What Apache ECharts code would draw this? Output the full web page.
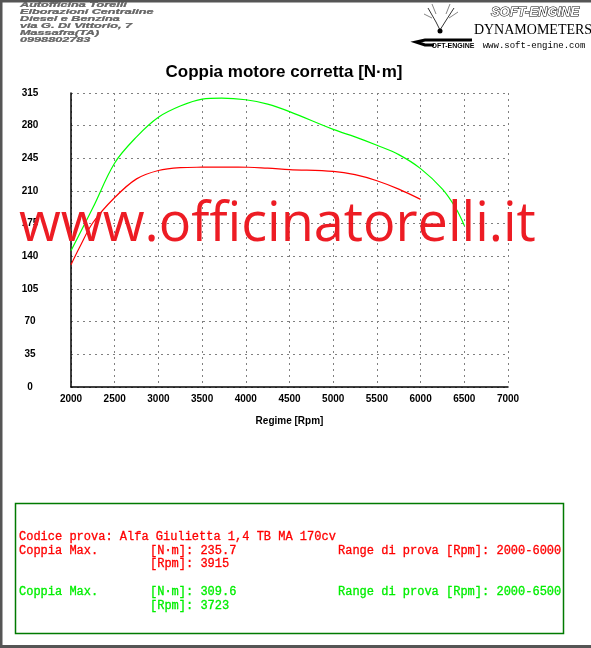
<!DOCTYPE html>
<html><head><meta charset="utf-8">
<script src="https://cdn.jsdelivr.net/npm/echarts@6/dist/echarts.min.js"></script>
<style>html,body{margin:0;padding:0;background:#fff}#c{width:591px;height:648px}</style>
</head><body><div id="c"></div>
<script>
// Data (rpm, N·m)
const greenRpm = [2000, 2250, 2500, 2750, 3000, 3250, 3500, 3723, 4000, 4250, 4500, 5000, 5250, 5500, 5750, 6000, 6250, 6400, 6500];
const greenNm  = [146, 192, 240, 268, 289, 301, 308.5, 309.6, 307.8, 303, 295, 276, 268, 259, 249, 234, 212, 192, 173];
const redRpm = [2000, 2100, 2250, 2500, 2750, 3000, 3250, 3500, 3915, 4250, 4500, 5000, 5250, 5500, 5750, 6000];
const redNm  = [131, 150, 176, 203, 223, 232, 235, 235.5, 235.7, 234.5, 233, 231, 227.5, 221, 212, 201];
const xTicks = {min: 2000, max: 7000, interval: 500};
const yTicks = {min: 0, max: 315, interval: 35};
const headerLines = ["Autofficina Torelli", "Elborazioni Centraline", "Diesel e Benzina", "via G. Di Vittorio, 7", "Massafra(TA)", "0998802783"];

const chart = echarts.init(document.getElementById('c'), null, {renderer: 'canvas'});
const zip = (a, b) => a.map((v, i) => [v, b[i]]);
const mono = "'Liberation Mono','Courier New',monospace";
const RED = '#ff0000', GRN = '#00ee00';

const g = [];
// frame (left, top, bottom)
g.push({type: 'polyline', shape: {points: [[591, 1], [1, 1], [1, 646.5], [591, 646.5]]}, style: {fill: 'none', stroke: '#555', lineWidth: 3}, silent: true, z: 1});
g.push({type: 'rect', shape: {x: 15.5, y: 503.5, width: 548, height: 130}, style: {fill: 'none', stroke: '#007a00', lineWidth: 1.5}, z: 1});
// header left
headerLines.forEach((t, i) => g.push({type: 'text', x: 20, y: 5 + i * 7, scaleY: 0.72, scaleX: 1.15,
  style: {text: t, font: 'italic bold 11px "Liberation Sans",Arial', fill: '#666', stroke: '#222', lineWidth: 0.3, textVerticalAlign: 'middle'}, z: 5}));
// header right logo
g.push({type: 'text', style: {x: 535, y: 12, text: 'SOFT-ENGINE', font: 'italic bold 13px "Liberation Sans",Arial', fill: '#fff', stroke: '#000', lineWidth: 1, textAlign: 'center', textVerticalAlign: 'middle'}, z: 5});
g.push({type: 'text', style: {x: 533, y: 30, text: 'DYNAMOMETERS', font: '14px "Liberation Serif","Times New Roman",serif', fill: '#000', textAlign: 'center', textVerticalAlign: 'middle'}, z: 5});
g.push({type: 'text', style: {x: 534, y: 46, text: 'www.soft-engine.com', font: '9px ' + mono, fill: '#000', textAlign: 'center', textVerticalAlign: 'middle'}, z: 5});
g.push({type: 'text', style: {x: 453, y: 46, text: 'OFT-ENGINE', font: 'bold 7px "Liberation Sans",Arial', fill: '#000', textAlign: 'center', textVerticalAlign: 'middle'}, z: 5});
g.push({type: 'polyline', shape: {points: [[472, 40], [425, 40], [416, 42], [425, 45], [434, 45]]}, style: {fill: 'none', stroke: '#000', lineWidth: 3}, z: 5});
g.push({type: 'polyline', shape: {points: [[428, 8], [436, 22], [440, 30], [445, 22], [454, 8]]}, style: {fill: 'none', stroke: '#333', lineWidth: 1}, z: 5});
g.push({type: 'polyline', shape: {points: [[424, 14], [432, 18]]}, style: {fill: 'none', stroke: '#666', lineWidth: 0.8}, z: 5});
g.push({type: 'polyline', shape: {points: [[458, 12], [449, 18]]}, style: {fill: 'none', stroke: '#666', lineWidth: 0.8}, z: 5});
g.push({type: 'polyline', shape: {points: [[432, 4], [436, 14]]}, style: {fill: 'none', stroke: '#666', lineWidth: 0.8}, z: 5});
g.push({type: 'polyline', shape: {points: [[450, 4], [446, 14]]}, style: {fill: 'none', stroke: '#666', lineWidth: 0.8}, z: 5});
g.push({type: 'circle', shape: {cx: 440, cy: 31, r: 2.5}, style: {fill: '#000'}, z: 5});
// info box text
const boxText = [
  [19, 537, 'Codice prova: Alfa Giulietta 1,4 TB MA 170cv', RED],
  [19, 551, 'Coppia Max.', RED], [150, 551, '[N·m]: 235.7', RED], [338, 551, 'Range di prova [Rpm]: 2000-6000', RED],
  [150, 564, '[Rpm]: 3915', RED],
  [19, 592, 'Coppia Max.', GRN], [150, 592, '[N·m]: 309.6', GRN], [338, 592, 'Range di prova [Rpm]: 2000-6500', GRN],
  [150, 606, '[Rpm]: 3723', GRN]
];
boxText.forEach(b => g.push({type: 'text', style: {x: b[0], y: b[1], text: b[2], font: '12px ' + mono, fill: b[3], stroke: b[3], lineWidth: 0.3, textVerticalAlign: 'middle'}, z: 5}));
// watermark
g.push({type: 'text', style: {x: 19, y: 226, text: 'www.officinatorelli.it', font: '54px "Open Sans","Noto Sans",sans-serif', fill: '#ed1c24', textVerticalAlign: 'middle'}, z: 20});

chart.setOption({
  animation: false,
  backgroundColor: '#fff',
  title: {text: 'Coppia motore corretta [N·m]', left: 279, top: 59, textAlign: 'center',
    textStyle: {fontFamily: '"Liberation Sans",Arial', fontWeight: 'bold', fontSize: 17, color: '#000'}},
  grid: {left: 71, right: 83, top: 93, bottom: 261, containLabel: false},
  xAxis: {type: 'value', min: xTicks.min, max: xTicks.max, interval: xTicks.interval,
    name: 'Regime [Rpm]', nameLocation: 'middle', nameGap: 29,
    nameTextStyle: {fontFamily: '"Liberation Sans",Arial', fontWeight: 'bold', fontSize: 10, color: '#000'},
    axisLine: {lineStyle: {color: '#000', width: 1.5}}, axisTick: {show: false},
    axisLabel: {margin: 7, formatter: v => String(v), fontFamily: '"Liberation Sans",Arial', fontWeight: 'bold', fontSize: 10, color: '#000'},
    splitLine: {show: true, lineStyle: {color: '#808080', type: [2, 4], width: 1}}},
  yAxis: {type: 'value', min: yTicks.min, max: yTicks.max, interval: yTicks.interval,
    axisLine: {show: true, lineStyle: {color: '#000', width: 1.5}}, axisTick: {show: false},
    axisLabel: {margin: 41, align: 'center', formatter: v => String(v), fontFamily: '"Liberation Sans",Arial', fontWeight: 'bold', fontSize: 10, color: '#000'},
    splitLine: {show: true, lineStyle: {color: '#808080', type: [2, 4], width: 1}}},
  series: [
    {type: 'line', data: zip(greenRpm, greenNm), smooth: 0.35, showSymbol: false, lineStyle: {color: '#00ff00', width: 1.2}, z: 3},
    {type: 'line', data: zip(redRpm, redNm), smooth: 0.35, showSymbol: false, lineStyle: {color: '#ff0000', width: 1.2}, z: 3}
  ],
  graphic: g
});
</script></body></html>
